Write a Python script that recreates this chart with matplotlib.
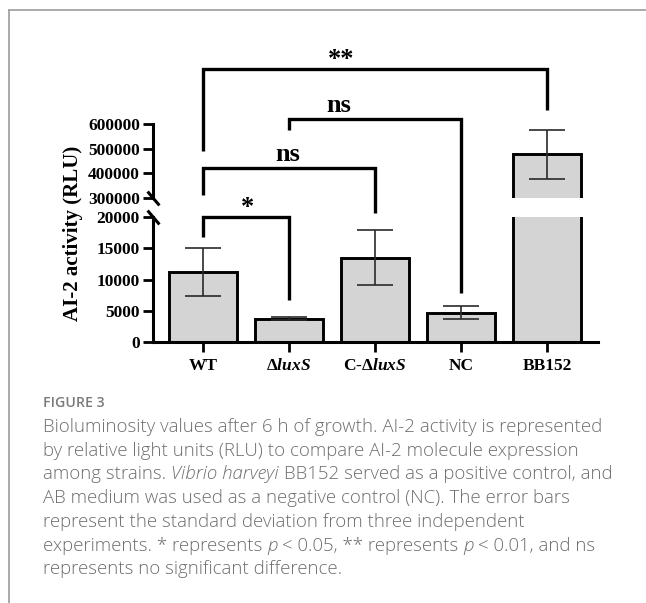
import matplotlib
matplotlib.use("Agg")
import matplotlib.pyplot as plt
from matplotlib.font_manager import FontProperties
from matplotlib.lines import Line2D
import matplotlib.transforms as mtransforms

# AI-2 activity (RLU), mean and SD of three experiments
strains = ["WT", r"$\Delta\mathit{luxS}$", r"C-$\Delta\mathit{luxS}$", "NC", "BB152"]
means = [11200, 3750, 13500, 4700, 478000]
sds = [3850, 300, 4450, 1000, 99000]

low_ticks = [0, 5000, 10000, 15000, 20000]
high_ticks = [300000, 400000, 500000, 600000]

# significance brackets: left bar, right bar, label
pairs = [(0, 1, "*"), (0, 2, "ns"), (1, 3, "ns"), (0, 4, "**")]

caption_title = "FIGURE 3"
caption = [
    [("Bioluminosity values after 6 h of growth. AI-2 activity is represented", False)],
    [("by relative light units (RLU) to compare AI-2 molecule expression", False)],
    [("among strains.", False), ("Vibrio harveyi", True), ("BB152 served as a positive control, and", False)],
    [("AB medium was used as a negative control (NC). The error bars", False)],
    [("represent the standard deviation from three independent", False)],
    [("experiments. * represents", False), ("p", True), ("< 0.05, ** represents", False),
     ("p", True), ("< 0.01, and ns", False)],
    [("represents no significant difference.", False)],
]

plt.rcParams["mathtext.fontset"] = "custom"
plt.rcParams["mathtext.rm"] = "Liberation Serif:bold"
plt.rcParams["mathtext.bf"] = "Liberation Serif:bold"
plt.rcParams["mathtext.it"] = "Liberation Serif:italic:bold"

W, H = 646, 603
fig = plt.figure(figsize=(W / 100, H / 100), dpi=100)

def fx(px):
    return px / W

def fy(py):
    return 1 - py / H

ax_bot = fig.add_axes([fx(153), fy(342), fx(598) - fx(153), (342 - 217) / H])
ax_top = fig.add_axes([fx(153), fy(198), fx(598) - fx(153), (198 - 124) / H])

serif = dict(family="Liberation Serif", weight="bold")
xpos = list(range(len(strains)))

for ax in (ax_bot, ax_top):
    ax.bar(xpos, means, width=0.79, color="#d4d4d4", edgecolor="black", linewidth=2.1, zorder=2)
    ax.errorbar(xpos, means, yerr=sds, fmt="none", ecolor="#2a2a2a", elinewidth=1.2,
                capsize=13, capthick=1.2, zorder=3)
    ax.set_xlim(-0.58, 4.59)
    for s in ("top", "right"):
        ax.spines[s].set_visible(False)
    ax.spines["left"].set_linewidth(2.2)
    ax.spines["bottom"].set_linewidth(2.2)
    ax.tick_params(axis="y", length=7.5, width=2, pad=2, labelsize=12.5)

ax_bot.set_ylim(0, 20000)
ax_top.set_ylim(300000, 600000)
ax_bot.set_yticks(low_ticks)
ax_bot.set_yticklabels([str(v) for v in low_ticks], **serif)
ax_top.set_yticks(high_ticks)
ax_top.set_yticklabels([str(v) for v in high_ticks], **serif)

ax_top.spines["bottom"].set_visible(False)
ax_top.set_xticks([])
ax_bot.set_xticks(xpos)
ax_bot.set_xticklabels(strains, fontsize=12.5, **serif)
ax_bot.tick_params(axis="x", length=7.5, width=2, pad=4)

# break marks on the y axis
mk = [(-0.85, 1), (0.85, -1)]
ax_top.plot([0], [0], transform=ax_top.transAxes, marker=mk, markersize=10,
            mew=2.2, color="black", clip_on=False, linestyle="none")
ax_bot.plot([0], [1], transform=ax_bot.transAxes, marker=mk, markersize=10,
            mew=2.2, color="black", clip_on=False, linestyle="none")

fig.text(fx(73), fy(233), "AI-2 activity (RLU)", rotation=90, ha="center", va="center",
         fontsize=15, **serif)

# brackets: x from bar positions, heights in figure pixels
br_top = [217, 168, 119, 69]
br_left = [237, 195, 130, 151]
br_right = [300, 213, 293, 110]
label_pos = [0.52, 0.98, 1.58, 1.61]
trans = mtransforms.blended_transform_factory(ax_bot.transData, fig.transFigure)
for k, (a, b, lab) in enumerate(pairs):
    line = Line2D([a, a, b, b], [fy(br_left[k]), fy(br_top[k]), fy(br_top[k]), fy(br_right[k])],
                  transform=trans, color="black", lw=2.4, solid_joinstyle="miter",
                  solid_capstyle="butt", clip_on=False)
    fig.add_artist(line)
    off = 7 if lab == "ns" else 3
    fig.text(label_pos[k], fy(br_top[k] - off), lab, transform=trans, fontsize=19,
             ha="center", va="baseline", **serif)

# frame around the figure panel
grey = "#9c9c9c"
fig.add_artist(Line2D([fx(9), fx(9)], [0, fy(10)], color=grey, lw=1.2))
fig.add_artist(Line2D([fx(9), 1], [fy(10), fy(10)], color=grey, lw=1.2))

# caption
fig.text(fx(43), fy(407), caption_title, family="Open Sans", weight="semibold",
         fontsize=10.2, color="#7a7a7a", va="baseline")

renderer = fig.canvas.get_renderer()
cap_size = 13.4

def adv(s, prop):
    w1, _, _ = renderer.get_text_width_height_descent("x" + s + "x", prop, ismath=False)
    w0, _, _ = renderer.get_text_width_height_descent("xx", prop, ismath=False)
    return w1 - w0

for i, pieces in enumerate(caption):
    y = 431.7 + i * 23.8
    x = 43
    for s, ital in pieces:
        prop = FontProperties(family="Open Sans", weight="light", size=cap_size,
                              style="italic" if ital else "normal")
        fig.text(fx(x), fy(y), s, fontproperties=prop, color="#6e6e6e", va="baseline", ha="left")
        x += adv(s, prop) + adv(" ", prop)

fig.savefig("out.png", dpi=100)
